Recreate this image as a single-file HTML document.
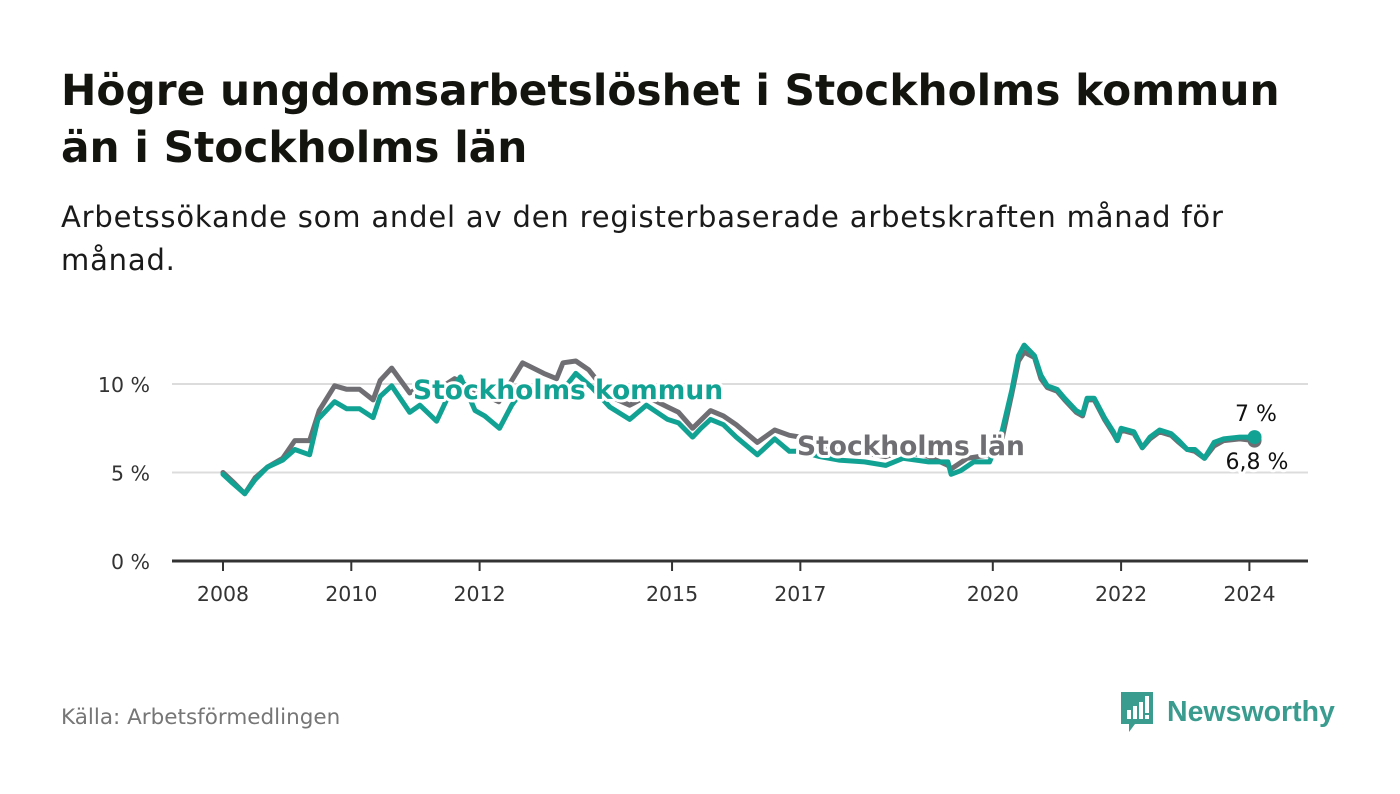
<!DOCTYPE html>
<html><head><meta charset="utf-8">
<style>
body{margin:0;background:#fff;width:1400px;height:794px;overflow:hidden;font-family:"DejaVu Sans","Liberation Sans",sans-serif;color:#111}
h1{position:absolute;left:61px;top:62px;margin:0;font-size:42.3px;line-height:57px;font-weight:bold;color:#14140f}
.sub{position:absolute;left:61px;top:196px;margin:0;font-size:29px;line-height:43px;color:#1a1a1a;letter-spacing:0.82px}
.src{position:absolute;left:61px;top:705px;font-size:21.5px;color:#767676}
.logo{position:absolute;left:1119px;top:690px;display:flex;align-items:center}
.logo span{font-family:"Liberation Sans",sans-serif;font-size:28.5px;font-weight:bold;color:#3a9b8f;margin-left:12px}
svg{position:absolute;left:0;top:0}
</style></head>
<body>
<h1>Högre ungdomsarbetslöshet i Stockholms kommun<br>än i Stockholms län</h1>
<p class="sub">Arbetssökande som andel av den registerbaserade arbetskraften månad för<br>månad.</p>
<svg id="chart" width="1400" height="794"></svg>
<div class="src">Källa: Arbetsförmedlingen</div>
<div class="logo">
<svg width="36" height="44" viewBox="0 0 36 44" style="position:static"><path d="M2 2h32v32H16l-6 8v-8H2z" fill="#3a9b8f"/><rect x="8" y="20" width="4" height="9" fill="#fff"/><rect x="14" y="16" width="4" height="13" fill="#fff"/><rect x="20" y="12" width="4" height="17" fill="#fff"/><rect x="26" y="6" width="4" height="17" fill="#fff"/><rect x="26" y="25" width="4" height="4" fill="#fff"/></svg>
<span>Newsworthy</span></div>
<script>
const yTicks=[0,5,10];
const yTickLabels=["0 %","5 %","10 %"];
const xTicks=[2008,2010,2012,2015,2017,2020,2022,2024];
const kommunDates=[2008.0,2008.15,2008.34,2008.5,2008.69,2008.93,2009.12,2009.35,2009.48,2009.74,2009.93,2010.13,2010.34,2010.45,2010.63,2010.91,2011.07,2011.33,2011.55,2011.7,2011.93,2012.08,2012.31,2012.5,2012.7,2013.0,2013.2,2013.5,2013.75,2014.03,2014.34,2014.6,2014.93,2015.1,2015.32,2015.45,2015.6,2015.8,2016.0,2016.33,2016.6,2016.83,2017.0,2017.3,2017.6,2018.0,2018.33,2018.6,2019.0,2019.3,2019.35,2019.5,2019.7,2019.95,2020.15,2020.3,2020.4,2020.49,2020.65,2020.75,2020.85,2021.0,2021.12,2021.3,2021.4,2021.47,2021.58,2021.74,2021.88,2021.94,2022.0,2022.2,2022.33,2022.45,2022.6,2022.78,2022.9,2023.03,2023.15,2023.3,2023.45,2023.6,2023.85,2024.08];
const kommunValues=[4.9,4.4,3.8,4.6,5.3,5.7,6.3,6.0,8.0,9.0,8.6,8.6,8.1,9.3,9.9,8.4,8.8,7.9,9.6,10.4,8.5,8.2,7.5,8.8,9.8,9.5,9.2,10.6,9.8,8.7,8.0,8.8,8.0,7.8,7.0,7.5,8.0,7.7,7.0,6.0,6.9,6.2,6.2,5.9,5.7,5.6,5.4,5.8,5.6,5.6,4.9,5.1,5.6,5.6,7.4,9.7,11.6,12.2,11.6,10.5,9.9,9.7,9.2,8.5,8.3,9.2,9.2,8.1,7.3,6.8,7.5,7.3,6.4,7.0,7.4,7.2,6.8,6.3,6.3,5.8,6.7,6.9,7.0,7.0];
const lanDates=[2008.0,2008.15,2008.34,2008.5,2008.69,2008.93,2009.12,2009.35,2009.5,2009.74,2009.93,2010.13,2010.34,2010.45,2010.63,2010.91,2011.07,2011.4,2011.61,2012.0,2012.3,2012.67,2013.0,2013.2,2013.3,2013.5,2013.7,2014.03,2014.34,2014.6,2014.93,2015.1,2015.32,2015.6,2015.8,2016.0,2016.33,2016.6,2016.83,2017.0,2017.3,2017.6,2018.0,2018.33,2018.6,2019.0,2019.3,2019.35,2019.6,2019.95,2020.15,2020.3,2020.4,2020.49,2020.65,2020.75,2020.85,2021.0,2021.12,2021.3,2021.4,2021.47,2021.58,2021.74,2021.88,2021.94,2022.0,2022.2,2022.33,2022.45,2022.6,2022.78,2022.9,2023.03,2023.15,2023.3,2023.45,2023.6,2023.85,2024.08];
const lanValues=[5.0,4.5,3.8,4.7,5.3,5.8,6.8,6.8,8.5,9.9,9.7,9.7,9.1,10.2,10.9,9.5,9.8,9.8,10.3,9.5,9.0,11.2,10.6,10.3,11.2,11.3,10.8,9.3,8.8,9.3,8.7,8.4,7.5,8.5,8.2,7.7,6.7,7.4,7.1,7.0,6.6,6.3,6.1,5.9,6.2,5.9,5.4,5.2,5.8,6.0,7.0,9.5,11.3,11.8,11.5,10.3,9.8,9.6,9.1,8.4,8.2,9.1,9.1,8.0,7.2,6.8,7.4,7.2,6.4,6.9,7.3,7.1,6.7,6.3,6.2,5.8,6.5,6.8,6.9,6.8];
const NS="http://www.w3.org/2000/svg";
const svg=document.getElementById('chart');
const X0=172,X1=1308;
function xs(d){return 223+(d-2008)*64.15;}
function ys(v){return 561-v*17.7;}
function mk(t,a,p){const e=document.createElementNS(NS,t);for(const k in a)e.setAttribute(k,a[k]);(p||svg).appendChild(e);return e;}
yTicks.forEach((t,i)=>{
  if(t>0){const g=mk('line',{x1:X0,x2:X1,y1:ys(t),y2:ys(t),stroke:'#dcdcdc','stroke-width':2});
  
  }
  const tx=mk('text',{x:150,y:ys(t)+8,'text-anchor':'end','font-size':20.5,fill:'#333'});tx.textContent=yTickLabels[i];
  
  
});
xTicks.forEach(t=>{
  const l=mk('line',{x1:xs(t),x2:xs(t),y1:561,y2:571,stroke:'#333','stroke-width':2});
  
  
  const tx=mk('text',{x:xs(t),y:601,'text-anchor':'middle','font-size':20.5,fill:'#333'});tx.textContent=t;
  
  
});
const base=mk('line',{x1:X0,x2:X1,y1:561,y2:561,stroke:'#333','stroke-width':3});


function line(d,v,c,name){
  const p=mk('path',{d:d.map((x,i)=>(i?'L':'M')+xs(x).toFixed(1)+' '+ys(v[i]).toFixed(1)).join(''),fill:'none',stroke:c,'stroke-width':5,'stroke-linejoin':'round','stroke-linecap':'round'});
  
  
}
line(lanDates,lanValues,'#6f6e72','series-stockholms-lan');
line(kommunDates,kommunValues,'#12a294','series-stockholms-kommun');
const lastK=kommunValues.length-1,lastL=lanValues.length-1;
const dL=mk('circle',{cx:xs(lanDates[lastL]),cy:ys(lanValues[lastL]),r:7,fill:'#6f6e72'});


const dK=mk('circle',{cx:xs(kommunDates[lastK]),cy:ys(kommunValues[lastK]),r:7,fill:'#12a294'});


function lbl(x,y,txt,c,w,sz,anchor,name){
  const t=mk('text',{x:x,y:y,'font-size':sz,'font-weight':w,fill:c,stroke:'#fff','stroke-width':6,'paint-order':'stroke','stroke-linejoin':'round','text-anchor':anchor});
  t.textContent=txt;
  
  
}
lbl(413,399,'Stockholms kommun','#12a294','bold',26.5,'start','label-stockholms-kommun');
lbl(797,455,'Stockholms län','#6f6e72','bold',26.5,'start','label-stockholms-lan');
lbl(1256,421,'7 %','#111','normal',22,'middle','value-label-kommun');
lbl(1257,469,'6,8 %','#111','normal',22,'middle','value-label-lan');
</script>
</body></html>
